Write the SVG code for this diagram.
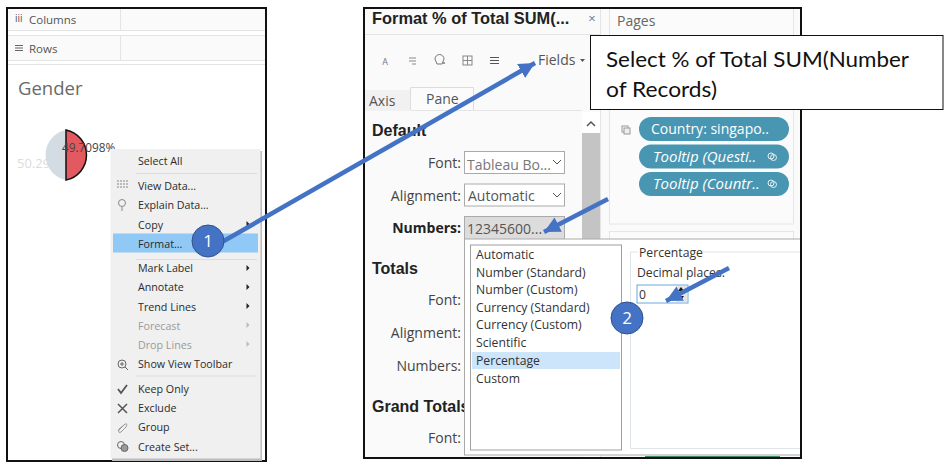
<svg xmlns="http://www.w3.org/2000/svg" width="947" height="470" viewBox="0 0 947 470">
<defs>
<marker id="ah" markerUnits="userSpaceOnUse" markerWidth="20" markerHeight="18" refX="16" refY="8" orient="auto"><path d="M0 0L16 8L0 16z" fill="#4472c4"/></marker>
</defs>
<style>
text{font-family:"Open Sans","Liberation Sans",sans-serif;fill:#333}
.m{font-size:10.7px;fill:#2b2b2b}
.g{font-size:10.7px;fill:#9a9a9a}
.f{font-size:14px;fill:#444;text-anchor:end}
.h{font-size:16px;font-weight:700;fill:#222;font-family:"Liberation Sans",sans-serif}
.l{font-size:12.200px;fill:#333}
.p{fill:#4996b2}
.pt{font-size:14px;fill:#fff}
.pi{font-size:15px;fill:#fff;font-style:italic}
.ln{stroke:#e4e4e4;fill:none}
.n{font-size:17px;fill:#fff;text-anchor:middle}
.c{fill:#4472c4;stroke:#2f528f;stroke-width:1}
.conn{stroke:#4472c4;stroke-width:4.500;fill:none}
.call{font-family:Lato,"Open Sans",sans-serif;font-size:21px;fill:#111}
</style>
<rect width="947" height="470" fill="#fff"/>

<g id="left-panel">
<rect x="7" y="8" width="259" height="453" fill="#fff"/>
<rect x="8" y="8" width="257" height="22" fill="#fafafa"/>
<rect x="8" y="36" width="257" height="24" fill="#fafafa"/>
<path class="ln" d="M8 30.500H265M8 35.500H265M8 60.500H265M8 64.500H265M120.500 8V30M120.500 36V60"/>
<text x="15" y="22" style="font-size:10px;fill:#555">iii</text>
<text x="29" y="24" style="font-size:11.500px;fill:#555">Columns</text>
<path d="M15 45.500H23M15 48H23M15 50.500H23" stroke="#666" fill="none"/>
<text x="29" y="53" style="font-size:11.500px;fill:#555">Rows</text>
<text x="18" y="95" style="font-size:18.500px;fill:#6a6a6a">Gender</text>
<text x="17" y="168" style="font-size:13px;fill:#dcdcdc">50.29</text>
<path d="M66 130A25.500 25.500 0 0 0 66 180z" fill="#d3dbe3"/>
<path d="M66 130A25.500 25.500 0 0 1 66 180z" fill="#e25a5f" stroke="#111" stroke-width="1.500"/>
<text x="62" y="152" style="font-size:11.800px;fill:#444">49.7098%</text>
<rect x="7" y="8" width="259" height="453" fill="none" stroke="#111" stroke-width="2"/>
</g>

<g id="context-menu">
<rect x="112" y="151" width="150" height="310" fill="#bdbdbd"/>
<rect x="110.500" y="149" width="150" height="309.500" fill="#f0f0f0"/>
<rect x="113" y="233.500" width="145" height="19" fill="#90c8f6"/>
<path d="M136 173.500H257M136 259.500H257M136 376H257" stroke="#dcdcdc" fill="none"/>
<text class="m" x="138" y="165">Select All</text>
<text class="m" x="138" y="190">View Data...</text>
<text class="m" x="138" y="209">Explain Data...</text>
<text class="m" x="138" y="229">Copy</text>
<text class="m" x="138" y="248">Format...</text>
<text class="m" x="138" y="272">Mark Label</text>
<text class="m" x="138" y="291">Annotate</text>
<text class="m" x="138" y="311">Trend Lines</text>
<text class="g" x="138" y="330">Forecast</text>
<text class="g" x="138" y="349">Drop Lines</text>
<text class="m" x="138" y="368">Show View Toolbar</text>
<text class="m" x="138" y="393">Keep Only</text>
<text class="m" x="138" y="412">Exclude</text>
<text class="m" x="138" y="431">Group</text>
<text class="m" x="138" y="451">Create Set...</text>
<path d="M246.500 221l3 3l-3 3zM246.500 265l3 3l-3 3zM246.500 284l3 3l-3 3zM246.500 303l3 3l-3 3z" fill="#222"/>
<path d="M246.500 322l3 3l-3 3zM246.500 341l3 3l-3 3z" fill="#bbb"/>
<path d="M117 181H128M117 184H128M117 187H128" stroke="#bbb" stroke-width="2" stroke-dasharray="2 1" fill="none"/>
<circle cx="122" cy="203" r="3.500" fill="none" stroke="#888"/><path d="M122 207V211" stroke="#888"/>
<circle cx="122" cy="364" r="4" fill="none" stroke="#666"/><path d="M125 367L128 370M120 364H124M122 362V366" stroke="#666"/>
<path d="M118 389L121 393L127 385" stroke="#555" stroke-width="1.800" fill="none"/>
<path d="M118 404L127 413M127 404L118 413" stroke="#555" stroke-width="1.500" fill="none"/>
<path d="M118 431L125 424Q128 423 126 427L121 432Q118 434 119 429L124 425" stroke="#999" fill="none"/>
<circle cx="121" cy="445" r="3.500" fill="none" stroke="#666"/><circle cx="124.500" cy="448" r="3.500" fill="#999" stroke="#666"/>
</g>

<g id="format-pane">
<rect x="364" y="8" width="437" height="450" fill="#fff"/>
<rect x="365" y="8" width="235" height="450" fill="#fafafa"/>
<path class="ln" d="M365 34.500H600M600.500 8V458"/>
<text x="372" y="24" style="font-size:16.400px;font-weight:700;fill:#222;font-family:'Liberation Sans',sans-serif">Format % of Total SUM(...</text>
<text x="592" y="23" style="font-size:13px;fill:#777;text-anchor:middle">×</text>
<text x="385" y="65" style="font-size:9px;fill:#777;text-anchor:middle">A</text>
<path d="M409 58H416M409 61H416M412 64H416" stroke="#888" fill="none"/>
<path d="M435 59A4.500 4.500 0 0 1 444 59L442 64H437Z" fill="none" stroke="#777"/><circle cx="444" cy="63" r="1" fill="#777"/>
<rect x="463" y="56" width="9" height="9" fill="none" stroke="#888"/><path d="M467.500 56V65M463 60.500H472" stroke="#888"/>
<path d="M490 57.500H499M490 60.500H499M490 63.500H499" stroke="#555" fill="none"/>
<text x="538" y="65" style="font-size:14px;fill:#555">Fields</text>
<path d="M580 59h5l-2.500 3z" fill="#555"/>
<path class="ln" d="M365 110.500H582"/>
<rect x="365" y="90" width="46" height="21" fill="#f1f1f1"/>
<path d="M410.500 110V87.500H473.500V110" fill="#fbfbfb" stroke="#ddd"/>
<text x="369" y="106" style="font-size:14px;fill:#555">Axis</text>
<text x="426" y="104" style="font-size:14px;fill:#555">Pane</text>
<rect x="582" y="112" width="18" height="346" fill="#fff"/>
<rect x="582" y="133" width="18" height="106" fill="#c4c4c4"/>
<path d="M587 126L591 122L595 126" stroke="#555" stroke-width="1.500" fill="none"/>
<text class="h" x="372" y="136">Default</text>
<text class="f" x="461" y="168">Font:</text>
<text class="f" x="461" y="201">Alignment:</text>
<text class="f" x="461" y="233" style="font-weight:700;fill:#222">Numbers:</text>
<rect x="464.500" y="151.500" width="100" height="22" fill="#fff" stroke="#aaa"/>
<text x="467" y="170" style="font-size:14px;fill:#777">Tableau Bo...</text>
<path d="M553 160l4 4l4-4" stroke="#555" fill="none"/>
<rect x="464.500" y="184" width="100" height="22" fill="#fff" stroke="#aaa"/>
<text x="468" y="201" style="font-size:14px;fill:#555">Automatic</text>
<path d="M553 193l4 4l4-4" stroke="#555" fill="none"/>
<rect x="464.500" y="216.500" width="100" height="23" fill="#dcdcdc" stroke="#aaa"/>
<text x="467" y="234" style="font-size:14px;fill:#555">12345600...</text>
<text class="h" x="372" y="274">Totals</text>
<text class="f" x="461" y="305">Font:</text>
<text class="f" x="461" y="338">Alignment:</text>
<text class="f" x="461" y="371">Numbers:</text>
<text class="h" x="372" y="412">Grand Totals</text>
<text class="f" x="461" y="443">Font:</text>
</g>

<g id="shelf-panel">
<rect x="601" y="8" width="200" height="450" fill="#fafafa"/>
<rect x="609.500" y="8" width="184" height="216" fill="#fbfbfb" stroke="#e6e6e6"/>
<rect x="609.500" y="231.500" width="184" height="20" fill="#fbfbfb" stroke="#e6e6e6"/>
<text x="617" y="26" style="font-size:14px;fill:#666">Pages</text>
<rect x="622" y="126" width="6" height="6" fill="none" stroke="#999"/><rect x="624" y="128" width="6" height="6" fill="#eee" stroke="#999"/>
<rect class="p" x="639" y="117" width="150" height="24" rx="12"/>
<rect class="p" x="639" y="144.500" width="150" height="24" rx="12"/>
<rect class="p" x="639" y="172" width="150" height="24" rx="12"/>
<text class="pt" x="651" y="134">Country: singapo..</text>
<text class="pi" x="653" y="162">Tooltip (Questi..</text>
<text class="pi" x="653" y="189">Tooltip (Countr..</text>
<g fill="none" stroke="#e6f1f5"><circle cx="771" cy="156" r="3"/><circle cx="773.500" cy="157.500" r="3"/><circle cx="771" cy="183" r="3"/><circle cx="773.500" cy="184.500" r="3"/></g>
</g>

<g id="number-popup">
<rect x="464.500" y="239" width="336" height="216" fill="#fff" stroke="#aaa"/>
<rect x="470.500" y="245" width="151" height="205" fill="#fff" stroke="#a0a0a0"/>
<rect x="472" y="352" width="148" height="17" fill="#cce5fb"/>
<text class="l" x="476" y="259">Automatic</text>
<text class="l" x="476" y="277">Number (Standard)</text>
<text class="l" x="476" y="294">Number (Custom)</text>
<text class="l" x="476" y="312">Currency (Standard)</text>
<text class="l" x="476" y="329">Currency (Custom)</text>
<text class="l" x="476" y="347">Scientific</text>
<text class="l" x="476" y="365">Percentage</text>
<text class="l" x="476" y="383">Custom</text>
<path d="M638 252H630.500V448.500H800M703 252H800" stroke="#dfe4e8" fill="none"/>
<text class="l" x="639" y="257">Percentage</text>
<text class="l" x="637" y="277">Decimal places:</text>
<rect x="637" y="285" width="51" height="18" fill="#fff" stroke="#6aa9dc"/>
<text class="l" x="639" y="299">0</text>
<rect x="676" y="286" width="11" height="16" fill="#e4e4e4"/>
<path d="M678 291l3-4l3 4zM678 296l3 4l3-4z" fill="#111"/>
<rect x="645" y="456" width="135" height="2" fill="#3c8b67"/>
</g>

<g id="frame-right">
<rect x="364" y="8" width="437" height="450" fill="none" stroke="#111" stroke-width="2"/>
</g>

<g id="callout">
<rect x="590.500" y="35.500" width="352.500" height="74" fill="#fff" stroke="#111"/>
<text class="call" x="606" y="67" textLength="303" lengthAdjust="spacingAndGlyphs">Select % of Total SUM(Number</text>
<text class="call" x="606" y="97" textLength="111" lengthAdjust="spacingAndGlyphs">of Records)</text>
</g>

<g id="connectors">
<path class="conn" d="M222 242L535 63" marker-end="url(#ah)"/>
<path class="conn" d="M608 199L544 232" marker-end="url(#ah)"/>
<path class="conn" d="M729 268L666 301" marker-end="url(#ah)"/>
</g>

<g id="badge-1">
<circle class="c" cx="208" cy="241" r="16"/>
<text class="n" x="208" y="247">1</text>
</g>
<g id="badge-2">
<circle class="c" cx="627" cy="318" r="16"/>
<text class="n" x="627" y="324">2</text>
</g>
</svg>
